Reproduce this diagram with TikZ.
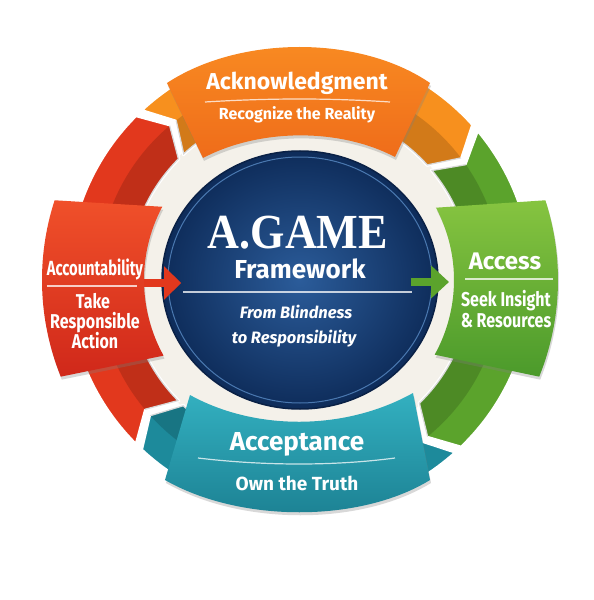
\documentclass[tikz,border=0pt]{standalone}
\usepackage{fontspec}
\setmainfont{Fira Sans}
\newfontfamily\condfont{Fira Sans}[FakeStretch=0.8]
\newfontfamily\narrowfont{Fira Sans}[FakeStretch=0.72]
\newfontfamily\gamefont{Liberation Serif}[FakeStretch=0.9]
\usetikzlibrary{arrows.meta,shapes.geometric,shadows}
\definecolor{ringred}{HTML}{E2381D}
\definecolor{ringorange}{HTML}{F7901E}
\definecolor{ringgreen}{HTML}{5BA32C}
\definecolor{ringteal}{HTML}{1D8A9B}
\definecolor{redtop}{HTML}{F0502A}
\definecolor{redbot}{HTML}{D0281A}
\definecolor{orgtop}{HTML}{F98C22}
\definecolor{orgbot}{HTML}{EF6C1A}
\definecolor{greentop}{HTML}{86C440}
\definecolor{greenbot}{HTML}{4B9A2B}
\definecolor{tealtop}{HTML}{33B0C0}
\definecolor{tealbot}{HTML}{1B7F91}
\definecolor{navyin}{HTML}{2B5C9A}
\definecolor{navyout}{HTML}{0E2C5A}
\definecolor{navyedge}{HTML}{0A2146}
\definecolor{navyline}{HTML}{4A78B0}
\definecolor{cream}{HTML}{F4F1EA}

\begin{document}
\begin{tikzpicture}[x=1pt,y=1pt,
  seg/.style={draw=white,line width=2.5pt,line join=round},
  fold/.style={fill=black,opacity=.15},
  box/.style={drop shadow={shadow xshift=1pt,shadow yshift=-3pt,opacity=.3}},
  label/.style={text=white,anchor=base,inner sep=0pt},
  sepline/.style={draw=white,opacity=.75,line width=1.2pt},
  redpoint/.style={draw=ringred,line width=8pt,-{Triangle[length=17pt,width=32pt]}},
  greenpoint/.style={draw=ringgreen,line width=8pt,-{Triangle[length=18pt,width=32pt]}}]
\useasboundingbox[fill=white] (-300,-320) rectangle (294,280);
\fill[cream] (0,0) circle[radius=173pt];
% ring of arrows
\foreach \a/\b/\c in {133/42/ringorange,40/-46/ringgreen,-48/-133/ringteal,225/135/ringred}{
  \pgfmathsetmacro\an{\a-5}
  \pgfmathsetmacro\bn{\b-5}
  \filldraw[seg,fill=\c] (\a:232pt) arc[start angle=\a,end angle=\b,radius=232pt] -- (\bn:202pt)
    -- (\b:171pt) arc[start angle=\b,end angle=\a,radius=171pt] -- (\an:202pt) -- cycle;
  \fill[fold] (\an:202pt) arc[start angle=\an,end angle=\bn,radius=202pt]
    -- (\b:171pt) arc[start angle=\b,end angle=\a,radius=171pt] -- cycle;
}
% boxes
\path[box,top color=orgtop,bottom color=orgbot] (-133,197) .. controls (-60,245) and (60,245) .. (130,197)
  -- (95,123) .. controls (40,152) and (-40,152) .. (-97,122) -- cycle;
\path[box,top color=greentop,bottom color=greenbot] (18:258pt) arc[start angle=18,end angle=-22,radius=258pt]
  -- (-29:154pt) arc[start angle=-29,end angle=28,radius=154pt] -- cycle;
\path[box,top color=redtop,bottom color=redbot] (162:258pt) arc[start angle=162,end angle=202,radius=258pt]
  -- (209:156pt) arc[start angle=209,end angle=152,radius=156pt] -- cycle;
\path[box,top color=tealtop,bottom color=tealbot] (-110,-115) .. controls (-45,-151) and (45,-151) .. (113,-113)
  -- (130,-200) .. controls (60,-243) and (-60,-243) .. (-135,-200) -- cycle;
% centre
\node[ellipse,minimum width=276pt,minimum height=258pt,inner color=navyin,outer color=navyout,
  draw=navyedge,line width=1.5pt] (game) at (0,0) {};
\draw[navyline,line width=1pt] (0,0) ellipse[x radius=132pt,y radius=123pt];
\node[label,font=\gamefont\bfseries\fontsize{49}{52}\selectfont] (agame) at (-2,32) {A.GAME};
\node[label,font=\bfseries\fontsize{26}{30}\selectfont] (frame) at (0,2) {Framework};
\draw[sepline] (-117,-12) -- (112,-12);
\node[label,font=\bfseries\itshape\fontsize{16.5}{20}\selectfont] (from) at (-4,-38) {From Blindness};
\node[label,font=\bfseries\itshape\fontsize{16.5}{20}\selectfont] (toresp) at (-6,-63) {to Responsibility};
% top
\node[label,font=\bfseries\fontsize{23}{27}\selectfont] (ackn) at (-3,190) {Acknowledgment};
\draw[sepline] (-95,178) .. controls (-30,182) and (30,182) .. (90,178);
\node[label,font=\bfseries\fontsize{16}{19}\selectfont] (recog) at (-3,160) {Recognize the Reality};
% left
\node[label,font=\narrowfont\bfseries\fontsize{20.5}{24}\selectfont] (acct) at (-205,5) {Accountability};
\draw[sepline] (-253,-6) -- (-163,-6);
\node[label,font=\condfont\bfseries\fontsize{20}{24}\selectfont] (take) at (-207,-28) {Take};
\node[label,font=\condfont\bfseries\fontsize{20}{24}\selectfont] (resp) at (-205,-48) {Responsible};
\node[label,font=\condfont\bfseries\fontsize{20}{24}\selectfont] (action) at (-205,-68) {Action};
% right
\node[label,font=\bfseries\fontsize{24}{28}\selectfont] (access) at (205,11) {Access};
\draw[sepline] (165,1) -- (253,1);
\node[label,font=\condfont\bfseries\fontsize{20}{24}\selectfont] (seek) at (206,-26) {Seek Insight};
\node[label,font=\condfont\bfseries\fontsize{20}{24}\selectfont] (resources) at (206,-47) {\& Resources};
% bottom
\node[label,font=\bfseries\fontsize{26}{30}\selectfont] (accept) at (-3,-170) {Acceptance};
\draw[sepline] (-102,-178) .. controls (-35,-186) and (35,-186) .. (95,-178);
\node[label,font=\bfseries\fontsize{19}{22}\selectfont] (own) at (-3,-210) {Own the Truth};
% pointers
\coordinate (acctedge) at (-156,-3);
\coordinate (accessedge) at (149,-2);
\draw[redpoint] (acctedge) -- ([xshift=20pt,yshift=-3pt]game.west);
\draw[greenpoint] ([xshift=-28pt,yshift=-2pt]game.east) -- (accessedge);
\end{tikzpicture}
\end{document}
